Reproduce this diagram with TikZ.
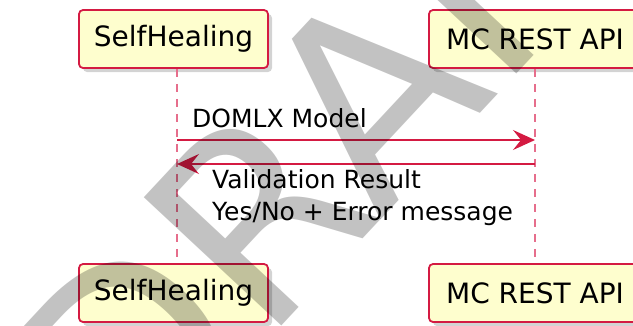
\documentclass[tikz,border=0pt]{standalone}
\usepackage{fontspec}
\setmainfont{DejaVu Sans}
\usetikzlibrary{arrows.meta,shadows}
\definecolor{umlred}{RGB}{212,26,66}
\definecolor{umlpink}{RGB}{230,110,140}
\definecolor{umlfill}{RGB}{254,254,206}
\tikzset{participant/.style={draw=umlred,line width=1.8pt,fill=umlfill,rounded corners=4pt,minimum height=58pt,inner sep=0pt,font=\fontsize{28}{30}\selectfont,drop shadow={shadow xshift=4pt,shadow yshift=-4pt,opacity=.35}}}
\tikzset{lifeline/.style={umlpink,line width=1.3pt,dash pattern=on 8pt off 7pt}}
\tikzset{message/.style={umlred,line width=1.6pt,-{Stealth[length=22pt,width=20pt,inset=8pt]}}}
\tikzset{msgtext/.style={inner sep=0pt,align=left,font=\fontsize{25}{32}\selectfont}}
\tikzset{watermark/.style={inner sep=0pt,text=black,text opacity=.24,rotate=47,anchor=base,font=\fontsize{258}{258}\selectfont}}

\begin{document}
\begin{tikzpicture}[x=1pt,y=-1pt]
\useasboundingbox (0,0) rectangle (633,325);
\clip (0,0) rectangle (633,325);

\node[participant,minimum width=189pt] (selfTop) at (173.5,39) {SelfHealing};
\node[participant,minimum width=212pt] (restTop) at (535,39) {MC REST API};
\node[participant,minimum width=189pt] (selfBot) at (173.5,293) {SelfHealing};
\node[participant,minimum width=212pt] (restBot) at (535,293) {MC REST API};

\draw[lifeline] ([xshift=3.5pt]selfTop.south) -- ([xshift=3.5pt]selfBot.north);
\draw[lifeline] (restTop.south) -- (restBot.north);

\coordinate (domlxStart) at (177,140);
\coordinate (domlxEnd) at (535,140);
\coordinate (resultStart) at (535,164);
\coordinate (resultEnd) at (177,164);

\draw[message] (domlxStart) -- (domlxEnd);
\node[msgtext,anchor=base west] (domlx) at (192,127) {DOMLX Model};
\draw[message] (resultStart) -- (resultEnd);
\node[msgtext,anchor=base west] (result) at (212,220) {Validation Result\\Yes/No + Error message};

\node[watermark] (draft) at (417,181) {DRAFT};
\end{tikzpicture}
\end{document}
